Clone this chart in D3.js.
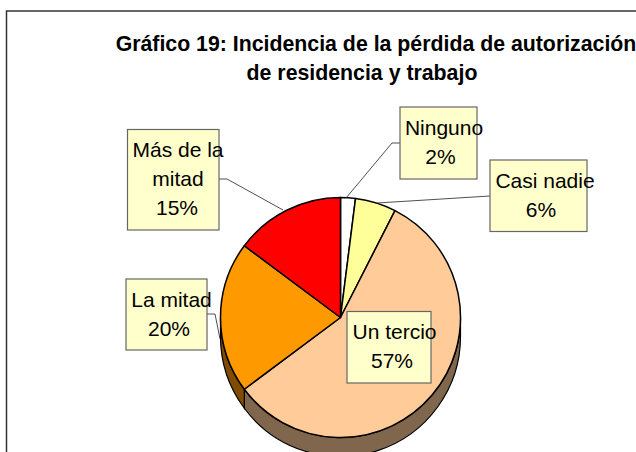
<!DOCTYPE html>
<html><head><meta charset="utf-8">
<script src="https://cdn.jsdelivr.net/npm/d3@7"></script>
<style>html,body{margin:0;padding:0;background:#fff;overflow:hidden}text{font-family:"Liberation Sans",Arial,sans-serif;fill:#000}</style>
</head><body><svg id="c" width="636" height="452"></svg>
<script>
const titleLines = ["Gráfico 19: Incidencia de la pérdida de autorización", "de residencia y trabajo"];
const categories = ["Ninguno", "Casi nadie", "Un tercio", "La mitad", "Más de la mitad"];
const values = [2.0, 5.5, 57.3, 20.4, 14.8];
const percentLabels = ["2%", "6%", "57%", "20%", "15%"];
const colors = ["#ffffff", "#ffff99", "#ffcc99", "#ff9900", "#ff0000"];
const sideColors = ["#808080", "#80804d", "#80664d", "#804d00", "#800000"];
const labelLines = [["Ninguno"], ["Casi nadie"], ["Un tercio"], ["La mitad"], ["Más de la", "mitad"]];

const cx = 340.5, cy = 317.5, R = 120, depth = 19;
const boxes = [
  {x:400, y:107, w:77, h:72, tx:444, px:440.5, base:135, line:[[400,143],[392,143],[346,198]]},
  {x:490, y:160, w:97, h:71.5, tx:545, px:541, base:188, line:[[490,196],[377,203]]},
  {x:347, y:311.5, w:84, h:71.5, tx:394.5, px:392, base:339, line:null},
  {x:126, y:279, w:81, h:71, tx:171.5, px:169, base:306.5, line:[[207,314],[215,314],[220,339]]},
  {x:127.5, y:129.5, w:91.5, h:100.5, tx:178, px:177, base:157, line:[[219,179],[227,179],[283,210]]}
];
const titleCenters = [376, 362];

const svg = d3.select("#c");
svg.append("path").attr("d","M6.5,452V11H636").attr("fill","none").attr("stroke","#333").attr("stroke-width",1.5);

const title = svg.append("text").attr("font-weight","bold").attr("font-size",21.3).attr("text-anchor","middle");
titleLines.forEach((t,i)=>title.append("tspan").attr("x",titleCenters[i]).attr("y",51+i*29).text(t));

const pie = d3.pie().sort(null).value(d=>d)(values);
const arc = d3.arc().innerRadius(0).outerRadius(R);
const g = svg.append("g").attr("transform",`translate(${cx},${cy})`);

// rim: the visible lower half of each slice, extruded downward
const pt = a => [R*Math.sin(a), -R*Math.cos(a)];
pie.forEach((s,i)=>{
  const a0 = Math.max(s.startAngle, Math.PI/2), a1 = Math.min(s.endAngle, 3*Math.PI/2);
  if (a1 <= a0) return;
  const [x0,y0] = pt(a0), [x1,y1] = pt(a1);
  g.append("path")
    .attr("d",`M${x0},${y0}A${R},${R} 0 ${a1-a0>Math.PI?1:0} 1 ${x1},${y1}L${x1},${y1+depth}A${R},${R} 0 ${a1-a0>Math.PI?1:0} 0 ${x0},${y0+depth}Z`)
    .attr("fill",sideColors[i]).attr("stroke","#000").attr("stroke-width",1.2);
});
g.selectAll("path.s").data(pie).join("path").attr("class","s")
  .attr("d",arc).attr("fill",(d,i)=>colors[i]).attr("stroke","#000").attr("stroke-width",1.5).attr("stroke-linejoin","round");

const line = d3.line();
boxes.forEach((b,i)=>{
  if (b.line) svg.append("path").attr("d",line(b.line)).attr("fill","none").attr("stroke","#222").attr("stroke-width",0.8);
  svg.append("rect").attr("x",b.x).attr("y",b.y).attr("width",b.w).attr("height",b.h)
    .attr("fill","#ffffcc").attr("stroke","#666").attr("stroke-width",1.2);
  const t = svg.append("text").attr("font-size",21).attr("text-anchor","middle");
  const rows = labelLines[i];
  rows.forEach((s,j)=>t.append("tspan").attr("x",b.tx).attr("y",b.base+j*29).text(s));
  t.append("tspan").attr("x",b.px).attr("y",b.base+rows.length*29).text(percentLabels[i]);
});
</script></body></html>
